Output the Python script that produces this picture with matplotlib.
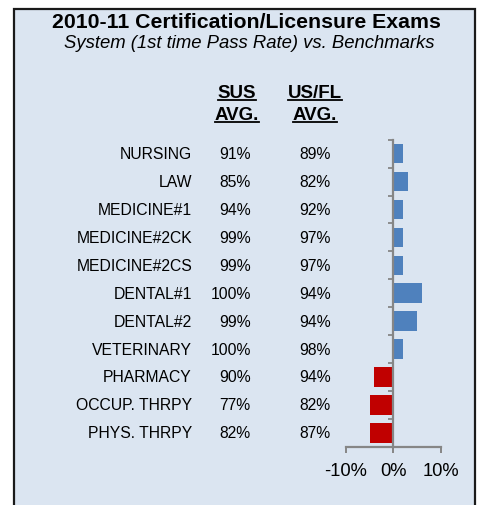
import matplotlib
matplotlib.use("Agg")
import matplotlib.pyplot as plt
import numpy as np
from matplotlib.patches import Rectangle
from matplotlib.lines import Line2D
import matplotlib.transforms as mtransforms

plt.rcParams['font.family'] = ['Liberation Sans', 'DejaVu Sans']

categories = ['NURSING', 'LAW', 'MEDICINE#1', 'MEDICINE#2CK', 'MEDICINE#2CS',
              'DENTAL#1', 'DENTAL#2', 'VETERINARY', 'PHARMACY', 'OCCUP. THRPY',
              'PHYS. THRPY']
sus_avg = [91, 85, 94, 99, 99, 100, 99, 100, 90, 77, 82]
usfl_avg = [89, 82, 92, 97, 97, 94, 94, 98, 94, 82, 87]
x_ticks = [-10, 0, 10]
x_tick_labels = ['-10%', '0%', '10%']

diff = np.array(sus_avg) - np.array(usfl_avg)

W, H = 480, 506
fig = plt.figure(figsize=(W / 100, H / 100), dpi=100)
fig.patch.set_facecolor('white')

# panel background with border
panel = Rectangle((14 / W, -0.02), (475 - 14) / W, 1 - 9.5 / H + 0.02,
                  transform=fig.transFigure, facecolor='#DBE5F1',
                  edgecolor='#1a1a1a', linewidth=1.6, zorder=-10)
fig.patches.append(panel)

fig.text(246 / W, 1 - 22 / H, '2010-11 Certification/Licensure Exams',
         ha='center', va='center', fontsize=15.3, fontweight='bold')
fig.text(249 / W, 1 - 44 / H, 'System (1st time Pass Rate) vs. Benchmarks',
         ha='center', va='center', fontsize=13.3, fontstyle='italic')

# bar axes
left, right = 345.7, 441.0
top, bottom = 140.7, 447.7
ax = fig.add_axes([left / W, 1 - bottom / H, (right - left) / W, (bottom - top) / H])
ax.set_facecolor('none')
ax.set_zorder(5)
y = np.arange(len(categories))
colors = ['#4F81BD' if d >= 0 else '#C00000' for d in diff]
ax.barh(y, diff, height=0.7, color=colors, zorder=2)
ax.set_xlim(-10, 10)
ax.set_ylim(len(categories) - 0.5, -0.5)

for s in ['top', 'right']:
    ax.spines[s].set_visible(False)
ax.spines['left'].set_position(('data', 0))
for s in ['left', 'bottom']:
    ax.spines[s].set_color('#868686')
    ax.spines[s].set_linewidth(1.6)
ax.spines['left'].set_zorder(3)

ax.set_xticks(x_ticks)
ax.set_xticklabels(x_tick_labels, fontsize=13.2)
ax.tick_params(axis='x', direction='out', length=4.0, width=1.4, color='#868686', pad=7)
ax.set_yticks([])
ax.set_yticks(np.arange(-0.5, len(categories)), minor=True)
ax.tick_params(axis='y', which='minor', direction='out', length=3.5, width=1.3,
               color='#868686', labelleft=False)

# table text anchored to the category scale
trans = mtransforms.blended_transform_factory(fig.transFigure, ax.transData)
for i, cat in enumerate(categories):
    fig.text(192 / W, i, cat, transform=trans, ha='right', va='center', fontsize=11.3)
    fig.text(250.7 / W, i, f'{sus_avg[i]}%', transform=trans, ha='right', va='center', fontsize=11.3)
    fig.text(331 / W, i, f'{usfl_avg[i]}%', transform=trans, ha='right', va='center', fontsize=11.3)

# headers with underline
header_texts = []
for xc, lines in [(237, ['SUS', 'AVG.']), (315, ['US/FL', 'AVG.'])]:
    for yc, s in zip([93, 115], lines):
        t = fig.text(xc / W, 1 - yc / H, s, ha='center', va='center',
                     fontsize=13.5, fontweight='bold')
        header_texts.append(t)

fig.canvas.draw()
renderer = fig.canvas.get_renderer()
for t in header_texts:
    bb = t.get_window_extent(renderer)
    yl = bb.y0 + 1.0
    fig.add_artist(Line2D([bb.x0 / W, bb.x1 / W], [yl / H, yl / H],
                          transform=fig.transFigure, color='black', linewidth=1.3))

fig.savefig('out.png', dpi=100)
